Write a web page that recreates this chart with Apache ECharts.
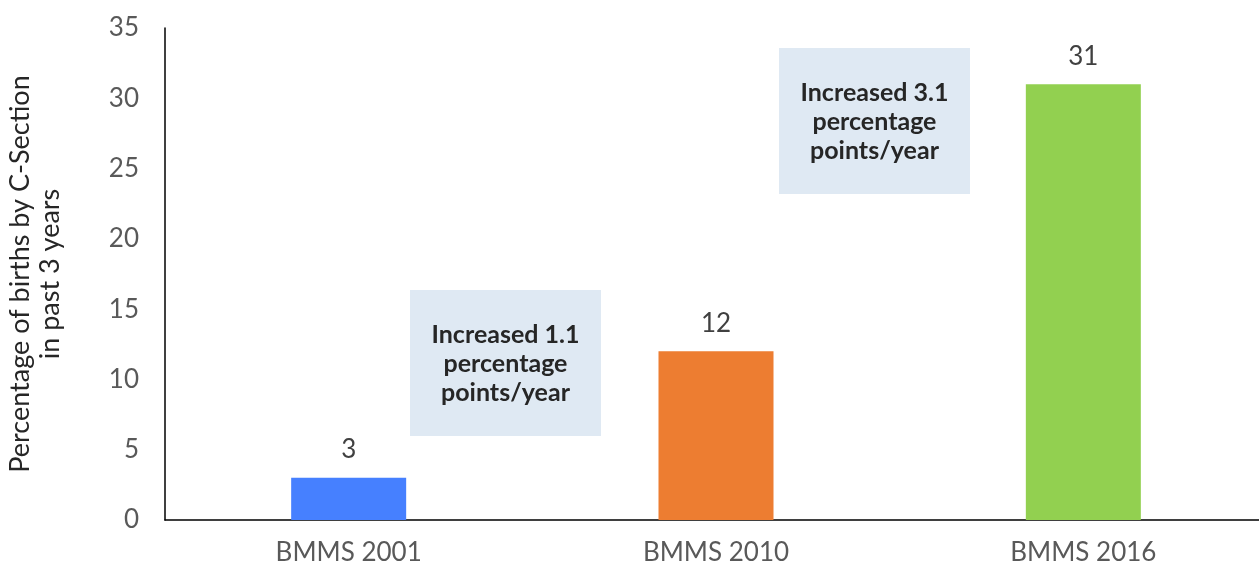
<!DOCTYPE html>
<html>
<head>
<meta charset="utf-8">
<script src="https://cdn.jsdelivr.net/npm/echarts@6/dist/echarts.min.js"></script>
<style>
  html, body { margin: 0; padding: 0; background: #fff; }
  #chart { width: 1259px; height: 567px; }
</style>
</head>
<body>
<div id="chart"></div>
<script>
var categories = ['BMMS 2001', 'BMMS 2010', 'BMMS 2016'];
var values = [3, 12, 31];
var barColors = ['#4680ff', '#ed7d31', '#92d050'];
var notes = ['Increased 1.1\npercentage\npoints/year', 'Increased 3.1\npercentage\npoints/year'];

var font = 'Lato, "Open Sans", sans-serif';

var myChart = echarts.init(document.getElementById('chart'));

function noteBox(x, y, text) {
    return {
        type: 'group',
        left: x,
        top: y,
        children: [
            { type: 'rect', shape: { x: 0, y: 0, width: 191, height: 146 }, style: { fill: '#dfe9f3' } },
            {
                type: 'text',
                x: 95.5,
                y: 74,
                style: {
                    text: text,
                    fill: '#262626',
                    font: 'bold 25px ' + font,
                    lineHeight: 29,
                    align: 'center',
                    verticalAlign: 'middle'
                }
            }
        ]
    };
}

myChart.setOption({
    backgroundColor: '#ffffff',
    animation: false,
    grid: {
        left: 165,
        top: 28,
        width: 1102,
        height: 492,
        containLabel: false,
        outerBoundsMode: 'none'
    },
    xAxis: {
        type: 'category',
        data: categories,
        axisLine: { lineStyle: { color: '#000000', width: 1.5 } },
        axisTick: { show: false },
        axisLabel: {
            color: '#595959',
            fontSize: 26,
            fontFamily: font,
            margin: 20
        }
    },
    yAxis: {
        type: 'value',
        min: 0,
        max: 35,
        interval: 5,
        name: 'Percentage of births by C-Section\nin past 3 years',
        nameLocation: 'middle',
        nameGap: 100,
        nameTextStyle: {
            color: '#262626',
            fontSize: 27,
            fontFamily: font,
            lineHeight: 30
        },
        axisLine: { show: true, lineStyle: { color: '#000000', width: 1.5 } },
        axisTick: { show: false },
        splitLine: { show: false },
        axisLabel: {
            color: '#595959',
            fontSize: 26,
            fontFamily: font,
            margin: 26
        }
    },
    series: [{
        type: 'bar',
        barWidth: 115,
        data: values.map(function (v, i) {
            return { value: v, itemStyle: { color: barColors[i] } };
        }),
        label: {
            show: true,
            position: 'top',
            distance: 15,
            color: '#404040',
            fontSize: 26,
            fontFamily: font
        }
    }],
    graphic: [
        noteBox(410, 290, notes[0]),
        noteBox(779, 48, notes[1])
    ]
});
</script>
</body>
</html>
